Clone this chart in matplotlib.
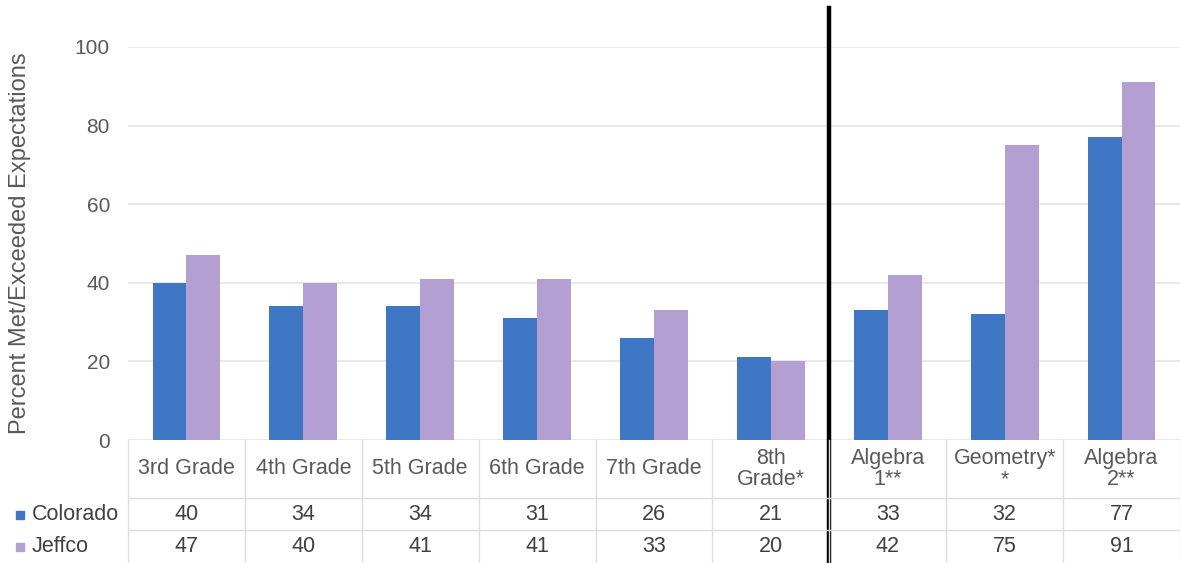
import numpy as np
import matplotlib
matplotlib.use('Agg')
from matplotlib import pyplot as plt
from matplotlib.transforms import blended_transform_factory

plt.rcParams['font.family'] = ['Liberation Sans', 'DejaVu Sans']

categories = ['3rd Grade', '4th Grade', '5th Grade', '6th Grade', '7th Grade',
              '8th\nGrade*', 'Algebra\n1**', 'Geometry*\n*', 'Algebra\n2**']
colorado = [40, 34, 34, 31, 26, 21, 33, 32, 77]
jeffco = [47, 40, 41, 41, 33, 20, 42, 75, 91]
series_names = ['Colorado', 'Jeffco']
colors = ['#3F77C5', '#B39FD2']
yticks = [0, 20, 40, 60, 80, 100]

W, H = 1180, 563
fig = plt.figure(figsize=(W / 100, H / 100), dpi=100)

# main bar area
left, right, top, bottom = 128, 1180, 47, 440
ax = fig.add_axes([left / W, 1 - bottom / H, (right - left) / W, (bottom - top) / H])
x = np.arange(len(categories))
bw = 0.29
ax.bar(x - bw / 2, colorado, bw, color=colors[0], zorder=3)
ax.bar(x + bw / 2, jeffco, bw, color=colors[1], zorder=3)
ax.set_xlim(-0.5, len(categories) - 0.5)
ax.set_ylim(0, 100)
ax.set_yticks(yticks)
ax.set_yticklabels([str(t) for t in yticks], fontsize=15, color='#595959')
ax.tick_params(axis='y', length=0, pad=13)
ax.set_xticks([])
ax.grid(axis='y', color='#e4e4e4', linewidth=1.2, zorder=0)
for s in ax.spines.values():
    s.set_visible(False)
ax.set_ylabel('Percent Met/Exceeded Expectations', fontsize=17, color='#595959')
ax.yaxis.set_label_coords(-0.092, 0.5)

# data table under the chart
tax = fig.add_axes([left / W, 0, (right - left) / W, (H - bottom) / H])
tax.set_xlim(-0.5, len(categories) - 0.5)
tax.set_ylim(0, H - bottom)
tax.axis('off')
grid_c = '#dddddd'
for b in np.arange(len(categories) + 1) - 0.5:
    tax.plot([b, b], [0, H - bottom], color=grid_c, lw=1, clip_on=False)
for yy in [H - 498, H - 530]:
    tax.plot([-0.5, len(categories) - 0.5], [yy, yy], color=grid_c, lw=1, clip_on=False)

for i, c in enumerate(categories):
    tax.text(i, H - 469, c, ha='center', va='center', fontsize=15.5, color='#595959',
             linespacing=1.05)
    tax.text(i, H - 515, str(colorado[i]), ha='center', va='center', fontsize=15.5, color='#404040')
    tax.text(i, H - 547, str(jeffco[i]), ha='center', va='center', fontsize=15.5, color='#404040')

# row labels with legend keys
for name, col, ypix in zip(series_names, colors, [515, 547]):
    fig.patches.append(plt.Rectangle((16 / W, 1 - (ypix + 4) / H), 8 / W, 8 / H,
                                     transform=fig.transFigure, color=col))
    fig.text(32 / W, 1 - ypix / H, name, ha='left', va='center', fontsize=15.5, color='#404040')

# divider between grade levels and courses
trans = blended_transform_factory(ax.transData, fig.transFigure)
ax.plot([5.5, 5.5], [0, 1 - 8 / H], color='black', lw=3.2, transform=trans, clip_on=False, zorder=5)

fig.savefig('out.png', dpi=100)
